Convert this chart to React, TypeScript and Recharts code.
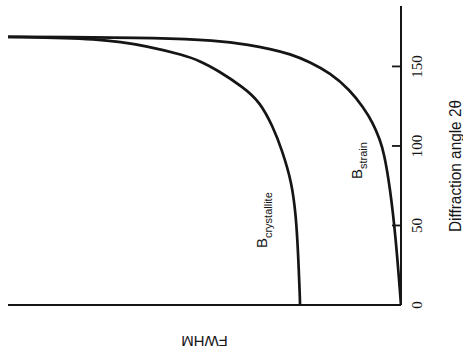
import React from 'react';
import { LineChart, Line, XAxis, YAxis, ReferenceDot, Label } from 'recharts';

// Diffraction angle 2θ (degrees) and FWHM contribution for each broadening term
const strainAngle = [0, 40.9, 74.2, 95.6, 103.8, 114.5, 124.5, 135.2, 145.9, 152.8, 157.9, 161.0, 163.5, 166.4, 168.1, 168.3, 168.6];
const strainFwhm = [0, 5, 11, 17, 21, 28, 38, 51, 71, 91, 111, 131, 151, 184, 251, 301, 393];

const crystalAngle = [0, 3.1, 34.6, 55.3, 76.7, 97.5, 112.0, 127.7, 137.1, 147.8, 153.5, 157.2, 162.5, 167.7, 168.6];
const crystalFwhm = [101, 101, 103, 105, 109, 119, 128, 141, 158, 184, 201, 218, 251, 301, 393];

const angleTicks = [0, 50, 100, 150];
const angleDomain = [0, 188];
const fwhmDomain = [0, 393];

const strainData = strainAngle.map((angle, i) => ({ angle, fwhm: strainFwhm[i] }));
const crystalData = crystalAngle.map((angle, i) => ({ angle, fwhm: crystalFwhm[i] }));

const INK = '#151515';
const SANS = 'Liberation Sans, Arial, Helvetica, sans-serif';
const SERIF = 'Liberation Serif, Times New Roman, serif';

// Angle axis tick: short mark pointing into the plot, label rotated to read upward
const AngleTick = (props: any) => {
  const { x, y, payload } = props;
  const lx = x + 16;
  return (
    <g>
      <line x1={x} x2={x - 9} y1={y} y2={y} stroke={INK} strokeWidth={1.8} />
      <text
        x={lx}
        y={y}
        transform={`rotate(-90 ${lx} ${y})`}
        textAnchor="middle"
        dominantBaseline="central"
        fontFamily={SERIF}
        fontSize={15}
        fill={INK}
      >
        {payload.value}
      </text>
    </g>
  );
};

const AngleTitle = (props: any) => {
  const { viewBox } = props;
  const x = viewBox.x + 54;
  const y = 166;
  return (
    <text
      x={x}
      y={y}
      transform={`rotate(-90 ${x} ${y})`}
      textAnchor="middle"
      dominantBaseline="central"
      fontFamily={SANS}
      fontSize={16}
      textLength={132}
      lengthAdjust="spacingAndGlyphs"
      fill={INK}
    >
      Diffraction angle 2θ
    </text>
  );
};

const FwhmTitle = (props: any) => {
  const { viewBox } = props;
  const x = viewBox.x + viewBox.width / 2;
  const y = viewBox.y + 36;
  return (
    <text
      x={x}
      y={y}
      transform={`rotate(180 ${x} ${y})`}
      textAnchor="middle"
      dominantBaseline="central"
      fontFamily={SANS}
      fontSize={15}
      fill={INK}
    >
      FWHM
    </text>
  );
};

// Curve name "B" with a subscript, written upward from the anchor point
const curveName = (sub: string) => (props: any) => {
  const { cx, cy } = props;
  return (
    <text
      x={cx}
      y={cy}
      transform={`rotate(-90 ${cx} ${cy})`}
      textAnchor="start"
      fontFamily={SANS}
      fontSize={15}
      fill={INK}
    >
      B
      <tspan dy={5} fontSize={11}>
        {sub}
      </tspan>
    </text>
  );
};

const crystalLabelAt = { angle: 35.8, fwhm: 134 };
const strainLabelAt = { angle: 79.2, fwhm: 39 };

export default function App() {
  return (
    <div style={{ position: 'absolute', left: 0, top: 0, width: 463, height: 353, background: '#ffffff' }}>
      <LineChart
        layout="vertical"
        width={463}
        height={353}
        margin={{ top: 6, right: 0, bottom: 0, left: 8 }}
      >
        <XAxis
          type="number"
          domain={fwhmDomain}
          reversed
          allowDataOverflow
          orientation="bottom"
          height={48}
          tick={false}
          tickLine={false}
          axisLine={{ stroke: INK, strokeWidth: 2 }}
        >
          <Label content={FwhmTitle} />
        </XAxis>
        <YAxis
          type="number"
          dataKey="angle"
          domain={angleDomain}
          reversed
          allowDataOverflow
          orientation="right"
          width={62}
          ticks={angleTicks}
          tickSize={0}
          tickMargin={0}
          tickLine={false}
          tick={<AngleTick />}
          axisLine={{ stroke: INK, strokeWidth: 2 }}
        >
          <Label content={AngleTitle} />
        </YAxis>
        <Line
          data={crystalData}
          dataKey="fwhm"
          type="basis"
          stroke={INK}
          strokeWidth={2.7}
          dot={false}
          activeDot={false}
          isAnimationActive={false}
        />
        <Line
          data={strainData}
          dataKey="fwhm"
          type="basis"
          stroke={INK}
          strokeWidth={2.7}
          dot={false}
          activeDot={false}
          isAnimationActive={false}
        />
        <ReferenceDot
          x={crystalLabelAt.fwhm}
          y={crystalLabelAt.angle}
          r={1}
          shape={curveName('crystallite')}
        />
        <ReferenceDot
          x={strainLabelAt.fwhm}
          y={strainLabelAt.angle}
          r={1}
          shape={curveName('strain')}
        />
      </LineChart>
    </div>
  );
}
